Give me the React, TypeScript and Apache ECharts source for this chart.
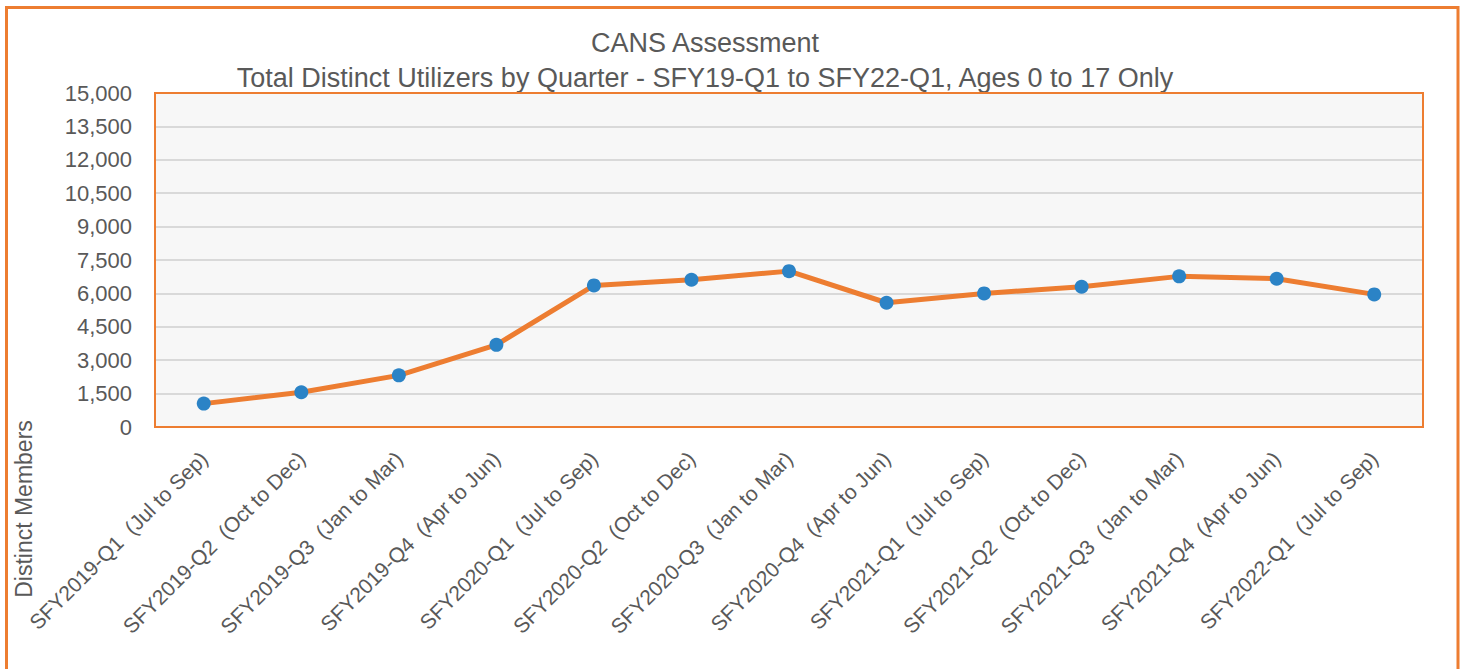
import React, { useEffect, useRef } from "react";
import * as echarts from "echarts";

const categories = [
  "SFY2019-Q1  (Jul to Sep)",
  "SFY2019-Q2  (Oct to Dec)",
  "SFY2019-Q3  (Jan to Mar)",
  "SFY2019-Q4  (Apr to Jun)",
  "SFY2020-Q1  (Jul to Sep)",
  "SFY2020-Q2  (Oct to Dec)",
  "SFY2020-Q3  (Jan to Mar)",
  "SFY2020-Q4  (Apr to Jun)",
  "SFY2021-Q1  (Jul to Sep)",
  "SFY2021-Q2  (Oct to Dec)",
  "SFY2021-Q3  (Jan to Mar)",
  "SFY2021-Q4  (Apr to Jun)",
  "SFY2022-Q1  (Jul to Sep)",
];

const distinctMembers = [1050, 1560, 2320, 3690, 6360, 6615, 7000, 5580, 6000, 6300, 6765, 6660, 5955];

const titleLine1 = "CANS Assessment";
const titleLine2 = "Total Distinct Utilizers by Quarter - SFY19-Q1 to SFY22-Q1, Ages 0 to 17 Only";
const yAxisTitle = "Distinct Members";

const ORANGE = "#ED7D31";
const BLUE = "#2B83C6";
const TEXT = "#595959";
const FONT = "'Liberation Sans', sans-serif";

export default function App() {
  const ref = useRef<HTMLDivElement>(null);
  useEffect(() => {
    if (!ref.current) return;
    const chart = echarts.init(ref.current, null, { renderer: "svg" });
    chart.setOption({
      animation: false,
      backgroundColor: "#ffffff",
      grid: {
        left: 155,
        top: 93,
        right: 42,
        bottom: 242,
        show: true,
        backgroundColor: "#F7F7F7",
        borderColor: ORANGE,
        borderWidth: 2,
      },
      graphic: [
        {
          type: "rect",
          shape: { x: 6.5, y: 7.5, width: 1451.5, height: 700 },
          style: { fill: "none", stroke: ORANGE, lineWidth: 3 },
          silent: true,
        },
        {
          type: "rect",
          shape: { x: 155, y: 93, width: 1268, height: 334 },
          style: { fill: "none", stroke: ORANGE, lineWidth: 2 },
          silent: true,
          z: 1,
        },
        {
          type: "text",
          x: 705,
          y: 43,
          style: {
            text: titleLine1,
            fontFamily: FONT,
            fontSize: 27,
            fill: TEXT,
            textAlign: "center",
            textVerticalAlign: "middle",
          },
        },
        {
          type: "text",
          x: 705,
          y: 78,
          style: {
            text: titleLine2,
            fontFamily: FONT,
            fontSize: 27,
            fill: TEXT,
            textAlign: "center",
            textVerticalAlign: "middle",
          },
        },
        {
          type: "text",
          x: 24,
          y: 509,
          rotation: Math.PI / 2,
          style: {
            text: yAxisTitle,
            fontFamily: FONT,
            fontSize: 23,
            fill: TEXT,
            textAlign: "center",
            textVerticalAlign: "middle",
          },
        },
      ],
      xAxis: {
        type: "category",
        data: categories,
        boundaryGap: true,
        axisLine: { show: false },
        axisTick: { show: false },
        axisLabel: {
          rotate: 45,
          interval: 0,
          margin: 28,
          color: TEXT,
          fontFamily: FONT,
          fontSize: 21,
        },
      },
      yAxis: {
        type: "value",
        min: 0,
        max: 15000,
        interval: 1500,
        axisLine: { show: false },
        axisTick: { show: false },
        splitLine: {
          showMinLine: false,
          showMaxLine: false,
          lineStyle: { color: "#D9D9D9", width: 2 },
        },
        axisLabel: {
          margin: 23,
          color: TEXT,
          fontFamily: FONT,
          fontSize: 22,
          formatter: (v: number) => v.toLocaleString("en-US"),
        },
      },
      series: [
        {
          type: "line",
          data: distinctMembers,
          symbol: "circle",
          symbolSize: 14,
          lineStyle: { color: ORANGE, width: 5 },
          itemStyle: { color: BLUE, borderWidth: 0 },
          z: 3,
        },
      ],
    });
    return () => chart.dispose();
  }, []);
  return (
    <div
      ref={ref}
      style={{ position: "fixed", left: 0, top: 0, width: 1465, height: 669 }}
    />
  );
}
